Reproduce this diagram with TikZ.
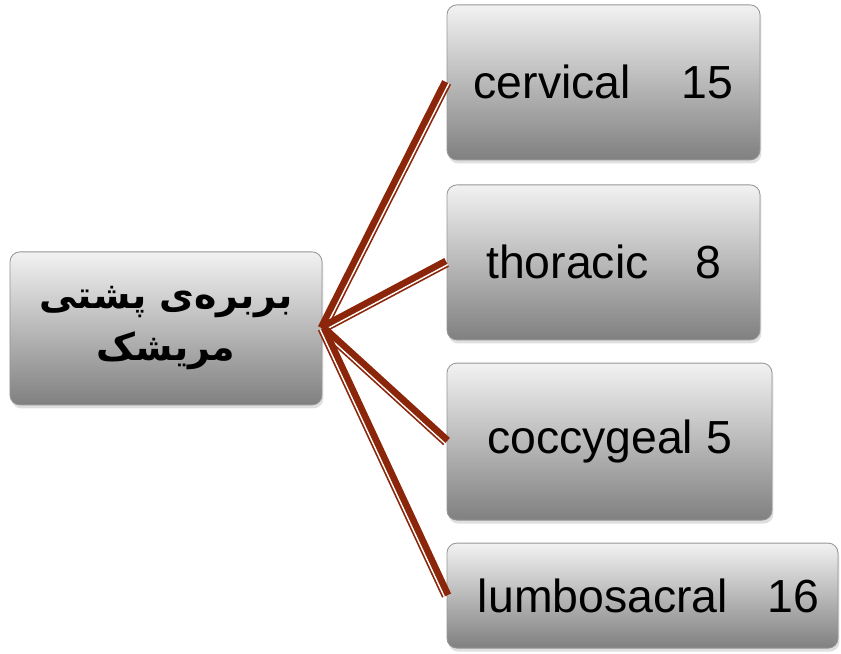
\documentclass[tikz,border=0pt]{standalone}
\usepackage{fontspec}
\setmainfont{Liberation Sans}
\newfontfamily\kurdfont[Script=Arabic]{DejaVu Sans}
\TeXXeTstate=1
\usetikzlibrary{shadows,calc}

\definecolor{linkred}{RGB}{140,38,10}
\definecolor{boxtop}{RGB}{242,242,242}
\definecolor{boxbottom}{RGB}{128,128,128}
\definecolor{boxedge}{RGB}{150,150,150}

\begin{document}
\begin{tikzpicture}[
    part/.style={draw=boxedge, line width=0.6pt, rounded corners=7pt, top color=boxtop, bottom color=boxbottom,
        drop shadow={opacity=0.25, shadow xshift=1pt, shadow yshift=-2.5pt},
        inner sep=0pt, font=\fontsize{33}{40}\selectfont},
    link/.style={draw=linkred, line width=7pt},
    gap/.style={draw=white, line width=1pt},
]
\useasboundingbox (0,0) rectangle (21.025,16.35);

% Root box
\node[part, minimum width=7.8cm, minimum height=3.825cm, align=center,
      font=\kurdfont\bfseries\fontsize{27}{37}\selectfont] (spine) at (4.15, 8.14)
  {\beginR بربرەی پشتی\endR\\\beginR مریشک\endR};

% Vertebra groups
\node[part, minimum width=7.825cm, minimum height=3.875cm] (cervical) at (15.0875, 14.29) {cervical\hspace{1.1em}15};
\node[part, minimum width=7.825cm, minimum height=3.875cm] (thoracic) at (15.0875, 9.79) {thoracic\hspace{1em}8};
\node[part, minimum width=8.125cm, minimum height=3.925cm] (coccygeal) at (15.2375, 5.31) {coccygeal 5};
\node[part, minimum width=9.775cm, minimum height=2.625cm] (lumbosacral) at (16.0625, 1.46) {\hspace{0.3cm}lumbosacral\hspace{0.85em}16};

% Connectors (thick-thin lines)
\foreach \group in {cervical, thoracic, coccygeal, lumbosacral} {
  \draw[link] (spine.east) -- (\group.west);
  \draw[gap] ($(spine.east)!1.8pt!-90:(\group.west)$) -- ($(\group.west)!1.8pt!90:(spine.east)$);
}

\end{tikzpicture}
\end{document}
